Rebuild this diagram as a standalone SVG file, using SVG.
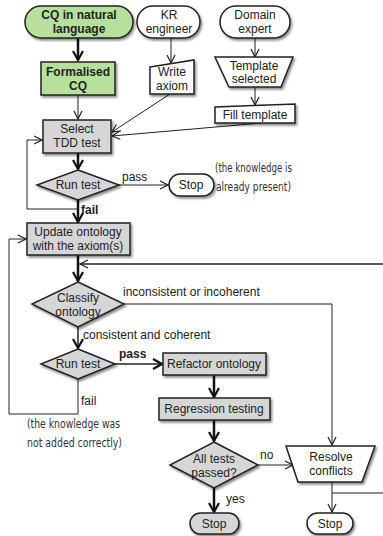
<svg xmlns="http://www.w3.org/2000/svg" width="383" height="536" viewBox="0 0 383 536">
<style>
text{font-family:"Liberation Sans",Arial,sans-serif;font-size:12px;fill:#222}
.c{text-anchor:middle}
.b{font-weight:bold}
.hand{font-family:"DejaVu Sans Condensed","Liberation Sans Narrow","Liberation Sans",sans-serif;font-size:11.5px;fill:#333}
.shape{stroke:#222;stroke-width:1.5}
.green{fill:#b7e09c}
.grey{fill:#d6d6d6}
.white{fill:#fff}
.thin{fill:none;stroke:#222;stroke-width:1}
.mid{fill:none;stroke:#222;stroke-width:1.5}
.thick{fill:none;stroke:#111;stroke-width:2.5}
</style>
<defs>
<filter id="sh" x="-20%" y="-20%" width="150%" height="160%">
<feDropShadow dx="1.5" dy="2" stdDeviation="1.2" flood-color="#000" flood-opacity="0.45"/>
</filter>
<marker id="a" markerWidth="10" markerHeight="10" refX="9" refY="5" orient="auto" markerUnits="userSpaceOnUse">
<path d="M1,1 L9,5 L1,9" fill="none" stroke="#222" stroke-width="1.2"/>
</marker>
<marker id="at" markerWidth="12" markerHeight="12" refX="10" refY="6" orient="auto" markerUnits="userSpaceOnUse">
<path d="M1,1 L10,6 L1,11" fill="none" stroke="#111" stroke-width="2.2"/>
</marker>
</defs>

<g id="connectors">
<path class="thick" d="M78,38 V60" marker-end="url(#at)"/>
<path class="thin" d="M78,95 V119" marker-end="url(#a)"/>
<path class="thin" d="M171,38 V63" marker-end="url(#a)"/>
<path class="thin" d="M255,38 V57" marker-end="url(#a)"/>
<path class="thin" d="M255,87 V105" marker-end="url(#a)"/>
<path class="thin" d="M170,94 L112,132" marker-end="url(#a)"/>
<path class="thin" d="M262,123 L112,136" marker-end="url(#a)"/>
<path class="thick" d="M78,153 V169" marker-end="url(#at)"/>
<path class="thin" d="M119,185 H168" marker-end="url(#a)"/>
<path class="thick" d="M78,200 V222" marker-end="url(#at)"/>
<path class="thin" d="M78,209 H27 V140 H42" marker-end="url(#a)"/>
<path class="thick" d="M78,255 V281" marker-end="url(#at)"/>
<path class="mid" d="M383,264 H80" marker-end="url(#a)"/>
<path class="thin" d="M124,304 H332 V445" marker-end="url(#a)"/>
<path class="mid" d="M78,327 V348" marker-end="url(#at)"/>
<path class="mid" d="M115,364 H162" marker-end="url(#at)"/>
<path class="thin" d="M78,379 V414 H9 V239 H26" marker-end="url(#a)"/>
<path class="thick" d="M214,375 V397" marker-end="url(#at)"/>
<path class="thick" d="M214,420 V441" marker-end="url(#at)"/>
<path class="thin" d="M258,465 H293" marker-end="url(#a)"/>
<path class="thick" d="M214,488 V512" marker-end="url(#at)"/>
<path class="thin" d="M332,482 V512" marker-end="url(#a)"/>
<path class="thin" d="M332,493 H383"/>
</g>

<g id="cq">
<rect class="shape green" x="25" y="6" width="108" height="32" rx="16" filter="url(#sh)"/>
<text class="c b" x="79" y="19">CQ in natural</text>
<text class="c b" x="79" y="33">language</text>
</g>
<g id="kr">
<rect class="shape white" x="137" y="6" width="63" height="32" rx="16" filter="url(#sh)"/>
<text class="c" x="169" y="19">KR</text>
<text class="c" x="169" y="33">engineer</text>
</g>
<g id="domain">
<rect class="shape white" x="220" y="6" width="70" height="32" rx="16" filter="url(#sh)"/>
<text class="c" x="255" y="19">Domain</text>
<text class="c" x="255" y="33">expert</text>
</g>
<g id="formalised">
<rect class="shape green" x="41" y="62" width="74" height="33" filter="url(#sh)"/>
<text class="c b" x="78" y="76">Formalised</text>
<text class="c b" x="78" y="90">CQ</text>
</g>
<g id="write">
<polygon class="shape white" points="150,67 194,60 194,94 150,94" filter="url(#sh)"/>
<text class="c" x="172" y="76">Write</text>
<text class="c" x="172" y="90">axiom</text>
</g>
<g id="template">
<polygon class="shape white" points="215,57 293,57 281,87 229,87" filter="url(#sh)"/>
<text class="c" x="254" y="70">Template</text>
<text class="c" x="254" y="83">selected</text>
</g>
<g id="fill">
<polygon class="shape white" points="215,107 295,104 295,123 215,123" filter="url(#sh)"/>
<text class="c" x="255" y="119">Fill template</text>
</g>
<g id="select">
<rect class="shape grey" x="43" y="120" width="68" height="33" filter="url(#sh)"/>
<text class="c" x="77" y="133">Select</text>
<text class="c" x="77" y="147">TDD test</text>
</g>
<g id="runtest1">
<polygon class="shape grey" points="78,170 119,185 78,200 37,185" filter="url(#sh)"/>
<text class="c" x="78" y="189">Run test</text>
</g>
<g id="stop1">
<rect class="shape white" x="169" y="174" width="45" height="22" rx="11" filter="url(#sh)"/>
<text class="c" x="191" y="189">Stop</text>
</g>
<g id="update">
<rect class="shape grey" x="27" y="223" width="103" height="32" filter="url(#sh)"/>
<text class="c" x="78" y="236">Update ontology</text>
<text class="c" x="78" y="250">with the axiom(s)</text>
</g>
<g id="classify">
<polygon class="shape grey" points="78,282 124,304 78,327 32,304" filter="url(#sh)"/>
<text class="c" x="78" y="302">Classify</text>
<text class="c" x="78" y="316">ontology</text>
</g>
<g id="runtest2">
<polygon class="shape grey" points="78,349 115,364 78,379 41,364" filter="url(#sh)"/>
<text class="c" x="78" y="368">Run test</text>
</g>
<g id="refactor">
<rect class="shape grey" x="163" y="353" width="103" height="22" filter="url(#sh)"/>
<text class="c" x="214" y="368">Refactor ontology</text>
</g>
<g id="regression">
<rect class="shape grey" x="159" y="398" width="111" height="22" filter="url(#sh)"/>
<text class="c" x="214" y="413">Regression testing</text>
</g>
<g id="alltests">
<polygon class="shape grey" points="214,442 258,465 214,488 170,465" filter="url(#sh)"/>
<text class="c" x="214" y="463">All tests</text>
<text class="c" x="214" y="477">passed?</text>
</g>
<g id="resolve">
<polygon class="shape white" points="286,446 375,446 362,482 298,482" filter="url(#sh)"/>
<text class="c" x="331" y="461">Resolve</text>
<text class="c" x="331" y="475">conflicts</text>
</g>
<g id="stop2">
<rect class="shape grey" x="190" y="513" width="49" height="21" rx="10.5" filter="url(#sh)"/>
<text class="c" x="214" y="528">Stop</text>
</g>
<g id="stop3">
<rect class="shape white" x="307" y="513" width="46" height="21" rx="10.5" filter="url(#sh)"/>
<text class="c" x="330" y="528">Stop</text>
</g>

<g id="labels">
<text x="122" y="181">pass</text>
<text class="b" x="81" y="214">fail</text>
<text class="hand" x="215" y="172" textLength="77" lengthAdjust="spacingAndGlyphs">(the knowledge is</text>
<text class="hand" x="216" y="191" textLength="75" lengthAdjust="spacingAndGlyphs">already present)</text>
<text x="123" y="296">inconsistent or incoherent</text>
<text x="83" y="339">consistent and coherent</text>
<text class="b" x="119" y="358">pass</text>
<text x="81" y="405">fail</text>
<text class="hand" x="27" y="428" textLength="93" lengthAdjust="spacingAndGlyphs">(the knowledge was</text>
<text class="hand" x="27" y="447" textLength="95" lengthAdjust="spacingAndGlyphs">not added correctly)</text>
<text x="260" y="459">no</text>
<text x="226" y="503">yes</text>
</g>
</svg>
